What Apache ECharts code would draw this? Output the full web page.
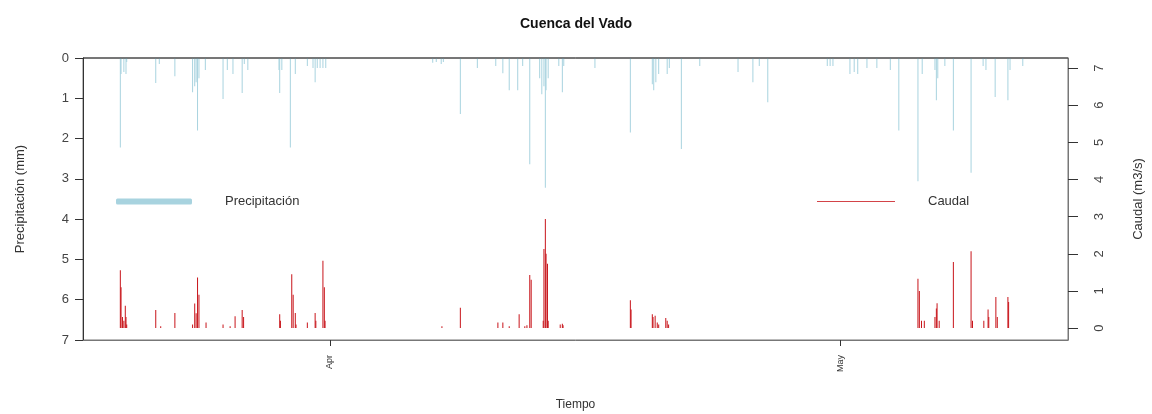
<!DOCTYPE html>
<html>
<head>
<meta charset="utf-8">
<script src="https://cdn.jsdelivr.net/npm/echarts@6/dist/echarts.min.js"></script>
<style>html,body{margin:0;padding:0;background:#fff;}#c{width:1152px;height:414px;}</style>
</head>
<body>
<div id="c"></div>
<script>
// Precipitación (mm), hourly timestamps with rain
const precipTimes = [
 '2013-03-19 16:00','2013-03-19 17:00','2013-03-19 21:00','2013-03-20 00:00','2013-03-20 01:00',
 '2013-03-21 18:00','2013-03-21 23:00','2013-03-22 21:00','2013-03-23 22:00','2013-03-24 01:00',
 '2013-03-24 03:00','2013-03-24 05:00','2013-03-24 07:00','2013-03-24 16:00','2013-03-25 17:00',
 '2013-03-25 23:00','2013-03-26 07:00','2013-03-26 20:00','2013-03-26 23:00','2013-03-27 04:00',
 '2013-03-29 00:00','2013-03-29 01:00','2013-03-29 04:00','2013-03-29 16:00','2013-03-29 23:00',
 '2013-03-30 16:00','2013-03-31 00:00','2013-03-31 03:00','2013-03-31 06:00','2013-03-31 10:00',
 '2013-03-31 14:00','2013-03-31 18:00',
 '2013-04-07 01:00','2013-04-07 06:00','2013-04-07 13:00','2013-04-07 16:00','2013-04-08 16:00',
 '2013-04-09 16:00','2013-04-10 18:00','2013-04-11 04:00','2013-04-11 13:00','2013-04-12 01:00',
 '2013-04-12 08:00','2013-04-12 18:00','2013-04-13 08:00','2013-04-13 11:00','2013-04-13 14:00',
 '2013-04-13 16:00','2013-04-13 17:00','2013-04-13 20:00','2013-04-14 11:00','2013-04-14 16:00',
 '2013-04-14 18:00','2013-04-16 14:00','2013-04-18 16:00','2013-04-19 23:00','2013-04-20 01:00',
 '2013-04-20 04:00','2013-04-20 08:00','2013-04-20 20:00','2013-04-20 23:00','2013-04-21 16:00',
 '2013-04-22 18:00','2013-04-25 00:00','2013-04-25 21:00','2013-04-26 06:00','2013-04-26 18:00',
 '2013-04-30 06:00','2013-04-30 10:00','2013-04-30 14:00','2013-05-01 14:00','2013-05-01 20:00',
 '2013-05-02 01:00','2013-05-02 14:00','2013-05-03 04:00','2013-05-03 23:00','2013-05-04 11:00',
 '2013-05-05 14:00','2013-05-05 20:00','2013-05-06 14:00','2013-05-06 16:00','2013-05-06 18:00',
 '2013-05-07 04:00','2013-05-07 16:00','2013-05-08 17:00','2013-05-09 10:00','2013-05-09 14:00',
 '2013-05-10 03:00','2013-05-10 21:00','2013-05-11 00:00','2013-05-11 18:00'
];
const precipValues = [
 2.22,0.4,0.35,0.4,0.1,
 0.62,0.15,0.45,0.85,0.7,
 0.6,1.8,0.5,0.3,1.02,
 0.3,0.4,0.87,0.15,0.3,
 0.3,0.87,0.3,2.22,0.4,
 0.2,0.25,0.6,0.25,0.25,
 0.25,0.25,
 0.12,0.1,0.15,0.1,1.39,
 0.25,0.2,0.38,0.8,0.8,
 0.2,2.64,0.5,0.9,0.7,
 3.22,0.8,0.5,0.2,0.85,
 0.2,0.25,1.85,0.65,0.8,
 0.6,0.4,0.4,0.25,2.26,
 0.2,0.35,0.6,0.2,1.1,
 0.2,0.2,0.2,0.4,0.35,
 0.4,0.25,0.25,0.3,1.8,
 3.06,0.4,0.3,1.05,0.5,
 0.2,1.8,2.85,0.2,0.3,
 0.97,1.05,0.3,0.2
];
// Caudal (m3/s)
const caudalTimes = [
 '2013-03-19 16:00','2013-03-19 17:00','2013-03-19 19:00','2013-03-19 21:00','2013-03-19 23:00',
 '2013-03-20 00:00','2013-03-20 01:00','2013-03-21 18:00','2013-03-22 01:00','2013-03-22 21:00',
 '2013-03-23 22:00','2013-03-24 01:00','2013-03-24 03:00','2013-03-24 05:00','2013-03-24 07:00',
 '2013-03-24 17:00','2013-03-25 17:00','2013-03-26 03:00','2013-03-26 10:00','2013-03-26 20:00',
 '2013-03-26 22:00','2013-03-29 01:00','2013-03-29 02:00','2013-03-29 18:00','2013-03-29 20:00',
 '2013-03-29 23:00','2013-03-30 00:00','2013-03-30 16:00','2013-03-31 03:00','2013-03-31 04:00',
 '2013-03-31 14:00','2013-03-31 16:00','2013-03-31 17:00',
 '2013-04-07 14:00','2013-04-08 16:00','2013-04-10 21:00','2013-04-11 04:00','2013-04-11 13:00',
 '2013-04-12 03:00','2013-04-12 11:00','2013-04-12 14:00','2013-04-12 18:00','2013-04-12 20:00',
 '2013-04-13 13:00','2013-04-13 14:00','2013-04-13 16:00','2013-04-13 17:00','2013-04-13 19:00',
 '2013-04-13 20:00','2013-04-14 13:00','2013-04-14 16:00','2013-04-14 17:00','2013-04-18 16:00',
 '2013-04-18 17:00','2013-04-19 23:00','2013-04-20 00:00','2013-04-20 03:00','2013-04-20 06:00',
 '2013-04-20 08:00','2013-04-20 18:00','2013-04-20 20:00','2013-04-20 22:00',
 '2013-05-05 14:00','2013-05-05 16:00','2013-05-05 19:00','2013-05-05 23:00','2013-05-06 14:00',
 '2013-05-06 16:00','2013-05-06 17:00','2013-05-06 20:00','2013-05-07 16:00','2013-05-08 17:00',
 '2013-05-08 19:00','2013-05-09 11:00','2013-05-09 17:00','2013-05-09 18:00','2013-05-10 04:00',
 '2013-05-10 06:00','2013-05-10 21:00','2013-05-10 22:00'
];
const caudalValues = [
 1.56,1.1,0.3,0.2,0.6,
 0.3,0.1,0.49,0.05,0.41,
 0.1,0.66,0.4,1.36,0.9,
 0.15,0.1,0.05,0.32,0.49,
 0.3,0.37,0.2,1.45,0.9,
 0.41,0.1,0.15,0.41,0.2,
 1.81,1.1,0.2,
 0.05,0.55,0.15,0.15,0.05,
 0.37,0.05,0.08,1.43,1.3,
 0.2,2.13,2.94,2.0,1.73,
 0.2,0.1,0.12,0.08,0.75,
 0.5,0.37,0.3,0.33,0.15,
 0.1,0.27,0.2,0.1,
 1.33,1.0,0.2,0.2,0.3,
 0.53,0.67,0.2,1.78,2.07,
 0.2,0.2,0.5,0.3,0.84,
 0.3,0.84,0.7
];
const precipTicks = [0,1,2,3,4,5,6,7];
const caudalTicks = [0,1,2,3,4,5,6,7];
const monthTicks = ['2013-04-01 00:00','2013-05-01 00:00'];
const monthLabels = ['Apr','May'];
const xRange = ['2013-03-17 11:18','2013-05-14 09:50'];

function ts(s){ return echarts.time.parse(s).getTime(); }
const monthTs = monthTicks.map(ts);

const chart = echarts.init(document.getElementById('c'), null, {renderer:'canvas'});
const font = 'Liberation Sans, Arial, sans-serif';
const blue = '#a8d3df', red = '#c8141a';
chart.setOption({
  animation:false,
  backgroundColor:'#fff',
  title:{text:'Cuenca del Vado', left:'center', top:12,
    textStyle:{fontFamily:font, fontSize:14, fontWeight:'bold', color:'#111'}},
  grid:{left:83, right:84, top:58, bottom:74, show:true, borderColor:'#777', borderWidth:1,
    backgroundColor:'transparent', outerBoundsMode:'none', containLabel:false},
  legend:[
    {data:[{name:'Precipitación', icon:'roundRect', itemStyle:{color:blue}}], left:111, top:190, itemWidth:76, itemHeight:6,
     selectedMode:false, textStyle:{fontFamily:font, fontSize:13, color:'#333', padding:[0,0,0,28]}},
    {data:[{name:'Caudal', icon:'rect', itemStyle:{color:red, opacity:0.8}}], left:812, top:190, itemWidth:78, itemHeight:1,
     selectedMode:false, textStyle:{fontFamily:font, fontSize:13, color:'#333', padding:[0,0,0,28]}}
  ],
  xAxis:{type:'value', min:ts(xRange[0]), max:ts(xRange[1]),
    name:'Tiempo', nameLocation:'middle', nameGap:59,
    nameTextStyle:{fontFamily:font, fontSize:12, color:'#333'},
    axisLine:{onZero:false, lineStyle:{color:'#777'}},
    splitLine:{show:false},
    axisTick:{customValues:monthTs, length:6, lineStyle:{color:'#333'}},
    axisLabel:{customValues:monthTs, rotate:90, fontFamily:font, fontSize:9, color:'#333', margin:15,
      formatter:function(v){ const i = monthTs.indexOf(v); return i>=0 ? monthLabels[i] : ''; }}
  },
  yAxis:[
    {type:'value', inverse:true, min:0, max:7, interval:1, position:'left',
     name:'Precipitación (mm)', nameLocation:'middle', nameGap:56,
     nameTextStyle:{fontFamily:font, fontSize:13, color:'#333'},
     axisLine:{show:true, onZero:false, lineStyle:{color:'#333'}},
     axisTick:{show:true, length:8, lineStyle:{color:'#333'}},
     axisLabel:{fontFamily:font, fontSize:13, color:'#444', margin:14,
       formatter:function(v){ return precipTicks.indexOf(v)>=0 ? String(v) : ''; }},
     splitLine:{show:false}},
    {type:'value', min:-0.32, max:7.27, position:'right',
     name:'Caudal (m3/s)', nameLocation:'middle', nameGap:64, nameRotate:90,
     nameTextStyle:{fontFamily:font, fontSize:13, color:'#333'},
     axisLine:{show:true, onZero:false, lineStyle:{color:'#777'}},
     axisTick:{show:true, customValues:caudalTicks, length:10, lineStyle:{color:'#333'}},
     axisLabel:{customValues:caudalTicks, rotate:90, fontFamily:font, fontSize:13, color:'#444', margin:25},
     splitLine:{show:false}}
  ],
  series:[
    {name:'Precipitación', type:'bar', yAxisIndex:0, barWidth:1, barGap:'-100%',
     itemStyle:{color:blue},
     data:precipTimes.map((t,i)=>[ts(t), precipValues[i]])},
    {name:'Caudal', type:'bar', yAxisIndex:1, barWidth:1, barGap:'-100%',
     itemStyle:{color:red},
     data:caudalTimes.map((t,i)=>[ts(t), caudalValues[i]])}
  ],
  graphic:[{type:'line', shape:{x1:83, y1:58, x2:1068, y2:58}, style:{stroke:'#333', lineWidth:1}, z:100}]
});
</script>
</body>
</html>
